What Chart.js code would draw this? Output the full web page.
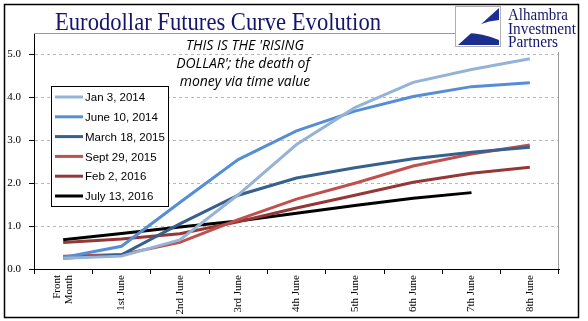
<!DOCTYPE html>
<html>
<head>
<meta charset="utf-8">
<script src="https://cdn.jsdelivr.net/npm/chart.js@4"></script>
<style>
  html, body { margin: 0; padding: 0; background: #fff; }
  #wrap { width: 588px; height: 321px; position: relative; }
</style>
</head>
<body>
<div id="wrap"><canvas id="chart" width="588" height="321"></canvas></div>
<script>
// tick labels / categories
const contracts = [ ["Front", "Month"], "1st June", "2nd June", "3rd June", "4th June", "5th June", "6th June", "7th June", "8th June" ];

// curve snapshots (rates, %)
const jan2014   = [ 0.25, 0.30, 0.68, 1.73, 2.90, 3.76, 4.35, 4.65, 4.90 ];
const jun2014   = [ 0.27, 0.53, 1.55, 2.55, 3.22, 3.68, 4.02, 4.25, 4.34 ];
const mar2015   = [ 0.25, 0.33, 1.05, 1.72, 2.12, 2.36, 2.57, 2.72, 2.84 ];
const sep2015   = [ 0.30, 0.34, 0.62, 1.15, 1.63, 2.00, 2.40, 2.68, 2.89 ];
const feb2016   = [ 0.62, 0.70, 0.82, 1.10, 1.42, 1.72, 2.02, 2.23, 2.37 ];
const jul2016   = [ 0.68, 0.83, 0.98, 1.12, 1.30, 1.48, 1.65, 1.78, null ];

const serif = "'Liberation Serif', 'Times New Roman', serif";
const navy = "#14146e";

function line( label, data, color ) {
  return {
    label: label,
    data: data,
    borderColor: color,
    backgroundColor: color,
    borderWidth: 3,
    pointRadius: 0,
    tension: 0,
    fill: false
  };
}

// draw text squeezed/stretched to a given width
function fitText( ctx, text, x, y, width ) {
  const w = ctx.measureText( text ).width;
  ctx.save();
  ctx.translate( x, y );
  ctx.scale( width / w, 1 );
  ctx.fillText( text, 0, 0 );
  ctx.restore();
}

// frame, title, logo, note, x labels and legend drawn on top
const decor = {
  id: "decor",
  beforeDraw( chart ) {
    const ctx = chart.ctx;
    ctx.save();
    ctx.fillStyle = "#fff";
    ctx.fillRect( 0, 0, chart.width, chart.height );
    ctx.restore();
  },
  afterDraw( chart ) {
    const ctx = chart.ctx;
    const a = chart.chartArea;
    const xs = chart.scales.x;
    ctx.save();

    // plot frame top / right (gray)
    ctx.strokeStyle = "#9a9a9a";
    ctx.lineWidth = 1;
    ctx.beginPath();
    ctx.moveTo( a.left, a.top + 0.5 );
    ctx.lineTo( 455, a.top + 0.5 );
    ctx.moveTo( a.right - 0.5, 52 );
    ctx.lineTo( a.right - 0.5, a.bottom );
    ctx.stroke();

    // outer border
    ctx.strokeStyle = "#000";
    ctx.lineWidth = 1.5;
    ctx.strokeRect( 4.5, 4.5, 574, 313 );

    // x tick labels, rotated, reading upwards
    ctx.fillStyle = "#000";
    ctx.font = "11px " + serif;
    ctx.textAlign = "right";
    ctx.textBaseline = "middle";
    xs.ticks.forEach( ( t, i ) => {
      const lbl = chart.data.labels[ i ];
      const lines = Array.isArray( lbl ) ? lbl : [ lbl ];
      const px = xs.getPixelForTick( i );
      lines.forEach( ( s, j ) => {
        const dx = ( j - ( lines.length - 1 ) / 2 ) * 12;
        ctx.save();
        ctx.translate( px + dx, a.bottom + 6 );
        ctx.rotate( -Math.PI / 2 );
        ctx.fillText( s, 0, 0 );
        ctx.restore();
      } );
    } );

    // title
    ctx.fillStyle = navy;
    ctx.font = "25px " + serif;
    ctx.textBaseline = "alphabetic";
    ctx.textAlign = "left";
    fitText( ctx, "Eurodollar Futures Curve Evolution", 55, 30, 326 );

    // logo box
    ctx.fillStyle = "#fff";
    ctx.fillRect( 455, 6, 46, 41 );
    ctx.strokeStyle = "#b0b0b0";
    ctx.lineWidth = 1;
    ctx.strokeRect( 455.5, 6.5, 45, 40 );
    ctx.fillStyle = "#1c2f8f";
    ctx.beginPath();
    ctx.moveTo( 499, 8 );
    ctx.lineTo( 458, 45 );
    ctx.lineTo( 499, 45 );
    ctx.closePath();
    ctx.fill();
    ctx.fillStyle = "#fff";
    ctx.beginPath();
    ctx.moveTo( 467, 33 );
    ctx.quadraticCurveTo( 478, 22, 499, 20 );
    ctx.lineTo( 499, 40 );
    ctx.quadraticCurveTo( 482, 33, 467, 33 );
    ctx.closePath();
    ctx.fill();

    ctx.fillStyle = navy;
    ctx.font = "16px " + serif;
    fitText( ctx, "Alhambra", 508, 20, 60 );
    fitText( ctx, "Investment", 508, 34, 68 );
    fitText( ctx, "Partners", 508, 47, 50 );

    // note
    ctx.fillStyle = "#000";
    ctx.font = "italic 14px 'Open Sans', 'Liberation Sans', sans-serif";
    ctx.textAlign = "center";
    ctx.fillText( "THIS IS THE 'RISING", 245, 50 );
    ctx.fillText( "DOLLAR'; the death of", 243, 68 );
    ctx.fillText( "money via time value", 245, 86 );

    // legend
    const lx = 51, ly = 86, lw = 117, lh = 120;
    ctx.fillStyle = "#fff";
    ctx.fillRect( lx, ly, lw, lh );
    ctx.strokeStyle = "#000";
    ctx.lineWidth = 1;
    ctx.strokeRect( lx + 0.5, ly + 0.5, lw, lh );
    ctx.font = "11.5px 'Liberation Sans', Arial, sans-serif";
    ctx.textAlign = "left";
    ctx.textBaseline = "middle";
    chart.data.datasets.forEach( ( ds, i ) => {
      const y = ly + 11 + i * 19.8;
      ctx.strokeStyle = ds.borderColor;
      ctx.lineWidth = 3;
      ctx.beginPath();
      ctx.moveTo( lx + 4, y );
      ctx.lineTo( lx + 32, y );
      ctx.stroke();
      ctx.fillStyle = "#000";
      ctx.fillText( ds.label, lx + 34, y + 1 );
    } );

    ctx.restore();
  }
};

new Chart( document.getElementById( "chart" ), {
  type: "line",
  data: {
    labels: contracts,
    datasets: [
      line( "Jan 3, 2014", jan2014, "#95b3d7" ),
      line( "June 10, 2014", jun2014, "#558ed5" ),
      line( "March 18, 2015", mar2015, "#35608f" ),
      line( "Sept 29, 2015", sep2015, "#c0504d" ),
      line( "Feb 2, 2016", feb2016, "#953735" ),
      line( "July 13, 2016", jul2016, "#000000" )
    ]
  },
  options: {
    responsive: false,
    animation: false,
    layout: { padding: { left: 0, top: 33, right: 29, bottom: 0 } },
    plugins: {
      legend: { display: false },
      title: { display: false },
      tooltip: { enabled: false }
    },
    scales: {
      x: {
        offset: true,
        afterFit( scale ) { scale.height = 52; },
        grid: {
          offset: true,
          drawOnChartArea: false,
          drawTicks: true,
          tickLength: 5,
          tickColor: "#000"
        },
        border: { color: "#000", width: 1 },
        ticks: { display: false }
      },
      y: {
        min: 0,
        max: 5.5,
        afterFit( scale ) { scale.width = 34; },
        afterBuildTicks( scale ) {
          scale.ticks = scale.ticks.filter( t => t.value <= 5 );
        },
        grid: {
          color: "#b8b8b8",
          lineWidth: 1,
          tickLength: 5,
          tickColor: "#000",
          tickBorderDash: []
        },
        border: { color: "#000", width: 1, dash: [ 3, 3 ] },
        ticks: {
          stepSize: 1,
          padding: 8,
          color: "#000",
          font: { family: serif, size: 11 },
          callback: v => v.toFixed( 1 )
        }
      }
    }
  },
  plugins: [ decor ]
} );
</script>
</body>
</html>
